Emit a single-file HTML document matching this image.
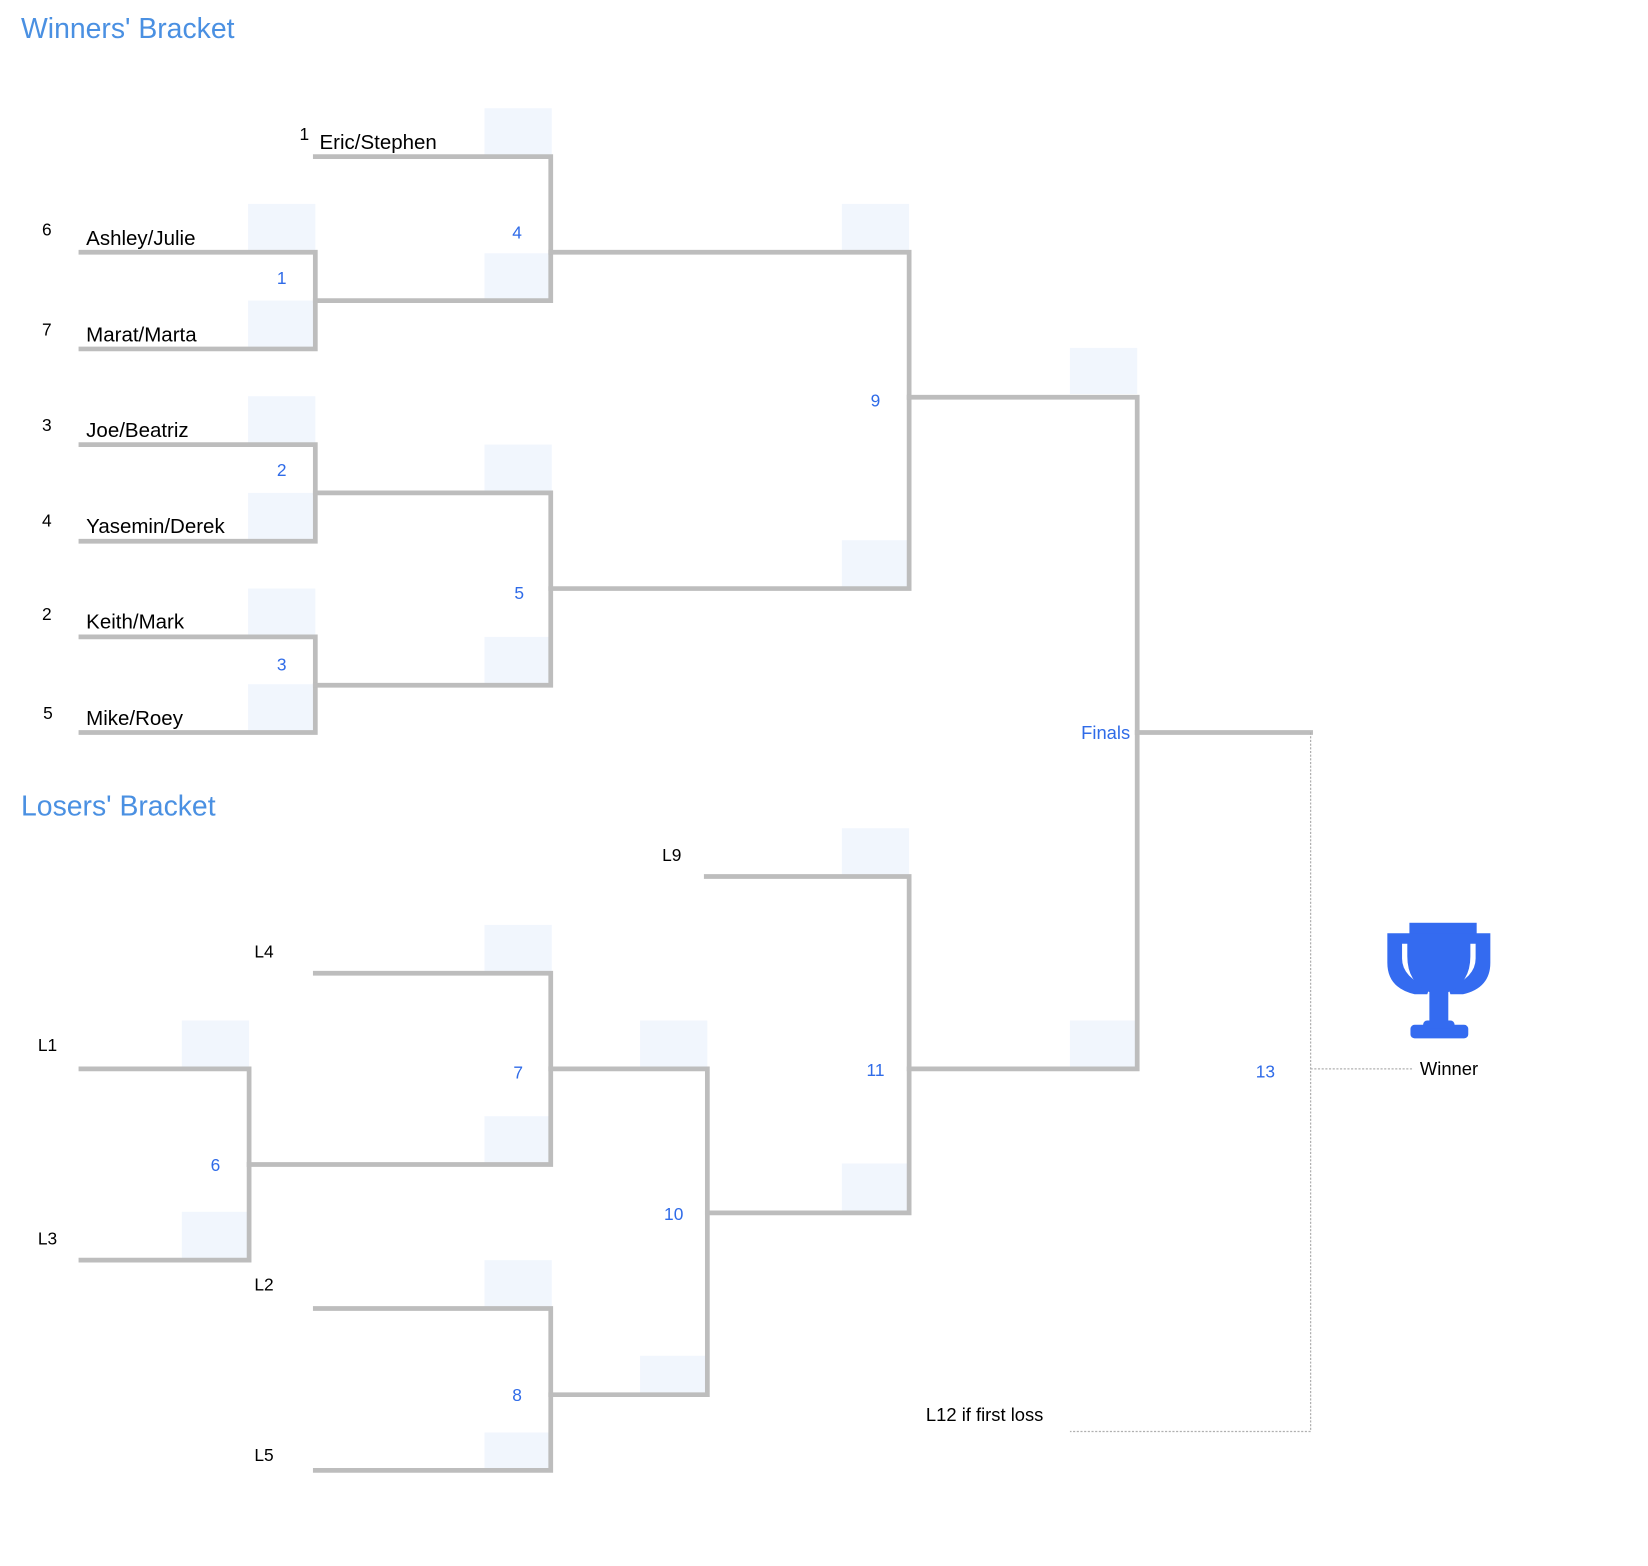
<!DOCTYPE html>
<html><head><meta charset="utf-8"><style>
html,body{margin:0;padding:0;background:#fff;}
svg{display:block;}
text{font-family:"Liberation Sans",sans-serif;}
.n{font-size:19.5px;fill:#000;}
.s{font-size:16.5px;fill:#000;}
.b{font-size:16.5px;fill:#2f6be8;text-anchor:middle;}
.t{font-size:27px;fill:#4a90e2;}
.bx{fill:#f1f6fd;}
.ln{stroke:#bdbdbd;stroke-width:4.5;fill:none;stroke-linejoin:miter;stroke-linecap:square;}
.d{stroke:#b0b0b0;stroke-width:1.2;stroke-dasharray:2,1.5;fill:none;}
</style></head><body>
<svg width="1648" height="1566" viewBox="0 0 1568 1490" xmlns="http://www.w3.org/2000/svg">
<text class="t" x="20" y="36">Winners' Bracket</text>
<text class="t" x="20" y="776">Losers' Bracket</text>

<g class="bx">
<rect x="461" y="103" width="64" height="44"/><rect x="461" y="241" width="64" height="44"/>
<rect x="236" y="194" width="64" height="44"/><rect x="236" y="286" width="64" height="44"/>
<rect x="236" y="377" width="64" height="44"/><rect x="236" y="469" width="64" height="44"/>
<rect x="236" y="560" width="64" height="44"/><rect x="236" y="651" width="64" height="44"/>
<rect x="461" y="423" width="64" height="44"/><rect x="461" y="606" width="64" height="44"/>
<rect x="801" y="194" width="64" height="44"/><rect x="801" y="514" width="64" height="44"/>
<rect x="1018" y="331" width="64" height="44"/><rect x="1018" y="971" width="64" height="44"/>
<rect x="801" y="788" width="64" height="44"/><rect x="801" y="1107" width="64" height="45"/>
<rect x="609" y="971" width="64" height="44"/><rect x="609" y="1290" width="64" height="35"/>
<rect x="461" y="880" width="64" height="44"/><rect x="461" y="1062" width="64" height="44"/>
<rect x="173" y="971" width="64" height="44"/><rect x="173" y="1153" width="64" height="44"/>
<rect x="461" y="1199" width="64" height="44"/><rect x="461" y="1363" width="64" height="34"/>
</g>

<g class="ln">
<polyline points="300,149 524,149 524,286 300,286"/>
<polyline points="77,240 300,240 300,332 77,332"/>
<polyline points="77,423 300,423 300,515 77,515"/>
<polyline points="77,606 300,606 300,697 77,697"/>
<polyline points="300,469 524,469 524,652 300,652"/>
<polyline points="524,240 865,240 865,560 524,560"/>
<polyline points="865,378 1082,378 1082,1017 865,1017"/>
<line x1="1082" y1="697" x2="1247" y2="697"/>
<polyline points="672,834 865,834 865,1154 673,1154"/>
<polyline points="524,1017 673,1017 673,1327 524,1327"/>
<polyline points="300,926 524,926 524,1108 237,1108"/>
<polyline points="77,1017 237,1017 237,1199 77,1199"/>
<polyline points="300,1245 524,1245 524,1399 300,1399"/>
</g>
<g class="d">
<polyline points="1247,697 1247,1362 1018,1362"/>
<line x1="1247" y1="1017" x2="1345" y2="1017"/>
</g>

<text class="n" x="304" y="142">Eric/Stephen</text>
<text class="n" x="82" y="233">Ashley/Julie</text>
<text class="n" x="82" y="325">Marat/Marta</text>
<text class="n" x="82" y="416">Joe/Beatriz</text>
<text class="n" x="82" y="507">Yasemin/Derek</text>
<text class="n" x="82" y="598">Keith/Mark</text>
<text class="n" x="82" y="690">Mike/Roey</text>
<text class="s" x="285" y="133">1</text>
<text class="s" x="40" y="224">6</text>
<text class="s" x="40" y="319">7</text>
<text class="s" x="40" y="410">3</text>
<text class="s" x="40" y="501">4</text>
<text class="s" x="40" y="590">2</text>
<text class="s" x="41" y="684">5</text>

<text class="s" x="630" y="819">L9</text>
<text class="s" x="242" y="911">L4</text>
<text class="s" x="36" y="1000">L1</text>
<text class="s" x="36" y="1184">L3</text>
<text class="s" x="242" y="1228">L2</text>
<text class="s" x="242" y="1390">L5</text>
<text class="s" x="881" y="1352" style="font-size:17.5px">L12 if first loss</text>
<text class="s" x="1351" y="1023" style="font-size:17.5px">Winner</text>

<text class="b" x="492" y="227">4</text>
<text class="b" x="268" y="270">1</text>
<text class="b" x="268" y="453">2</text>
<text class="b" x="268" y="638">3</text>
<text class="b" x="494" y="570">5</text>
<text class="b" x="833" y="387">9</text>
<text class="b" x="1052" y="703" style="font-size:17.5px">Finals</text>
<text class="b" x="1204" y="1025">13</text>
<text class="b" x="833" y="1024">11</text>
<text class="b" x="641" y="1161">10</text>
<text class="b" x="493" y="1026">7</text>
<text class="b" x="205" y="1114">6</text>
<text class="b" x="492" y="1333">8</text>

<g fill="#346bf0">
<rect x="1341" y="878" width="64" height="12"/>
<path d="M1320 888 H1418 V916 Q1418 940 1392 946 L1380 946 L1378 940 Q1404 930 1404 912 V898 H1334 V912 Q1334 930 1360 940 L1358 946 L1346 946 Q1320 940 1320 916 Z"/>
<path d="M1339 890 H1399 V910 Q1399 935 1378 944 L1378 975 L1360 975 L1360 944 Q1339 935 1339 910 Z"/>
<rect x="1342" y="975" width="55" height="13" rx="4"/>
<rect x="1354" y="971" width="30" height="8" rx="4"/>
</g>
</svg>
</body></html>
